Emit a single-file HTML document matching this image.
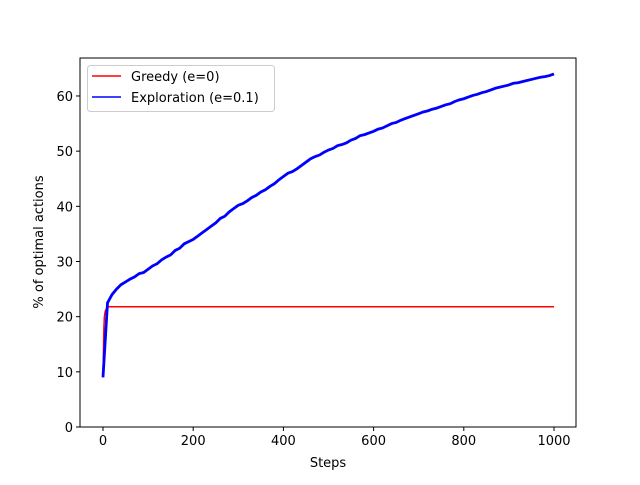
<!DOCTYPE html>
<html><head><meta charset="utf-8"><style>
body{margin:0;background:#fff;}
text{font-family:"DejaVu Sans","Liberation Sans",sans-serif;font-size:13px;fill:#000;}
</style></head><body>
<svg id="chart" width="640" height="480" xmlns="http://www.w3.org/2000/svg">
<rect width="640" height="480" fill="#fff"/>
<g id="plot"></g>
</svg>
<script>
const steps=[0,10,20,30,40,50,60,70,80,90,100,110,120,130,140,150,160,170,180,190,200,210,220,230,240,250,260,270,280,290,300,310,320,330,340,350,360,370,380,390,400,410,420,430,440,450,460,470,480,490,500,510,520,530,540,550,560,570,580,590,600,610,620,630,640,650,660,670,680,690,700,710,720,730,740,750,760,770,780,790,800,810,820,830,840,850,860,870,880,890,900,910,920,930,940,950,960,970,980,990,1000];
const exploration=[9,22.5,24,25,25.8,26.3,26.8,27.2,27.8,28,28.6,29.2,29.6,30.3,30.8,31.2,32,32.4,33.2,33.6,34,34.6,35.2,35.8,36.4,37,37.8,38.2,39,39.6,40.2,40.5,41,41.6,42,42.6,43,43.6,44.1,44.8,45.4,46,46.3,46.8,47.4,48,48.6,49,49.3,49.8,50.2,50.5,51,51.2,51.5,52,52.3,52.8,53,53.3,53.6,54,54.2,54.6,55,55.2,55.6,55.9,56.2,56.5,56.8,57.1,57.3,57.6,57.8,58.1,58.4,58.6,59,59.3,59.5,59.8,60.1,60.3,60.6,60.8,61.1,61.4,61.6,61.8,62,62.3,62.4,62.6,62.8,63,63.2,63.4,63.5,63.7,64];
const greedySteps=[0,1,2,3,5,8,12,20,1000];
const greedy=[9,14,18,20,21,21.5,21.8,21.8,21.8];
const xTicks=[0,200,400,600,800,1000];
const yTicks=[0,10,20,30,40,50,60];

const L=80,R=576,T=58,B=427;
const xs=v=>103+v*(554-103)/1000;
const ys=v=>427-v*5.517;
const g=document.getElementById('plot');
const NS='http://www.w3.org/2000/svg';
function el(t,a){const e=document.createElementNS(NS,t);for(const k in a)e.setAttribute(k,a[k]);g.appendChild(e);return e;}

xTicks.forEach(v=>{
 const t=el('line',{x1:xs(v),x2:xs(v),y1:B,y2:B+4,stroke:'#000'});
 
 
 const tx=el('text',{x:xs(v),y:B+18,'text-anchor':'middle'});tx.textContent=v;
 
 
});
yTicks.forEach(v=>{
 const t=el('line',{x1:L-4,x2:L,y1:ys(v),y2:ys(v),stroke:'#000'});
 
 
 const tx=el('text',{x:L-7,y:ys(v)+5,'text-anchor':'end'});tx.textContent=v;
 
 
});
const p1=el('polyline',{points:greedySteps.map((s,i)=>xs(s)+','+ys(greedy[i])).join(' '),fill:'none',stroke:'#ff0000','stroke-width':1.5});


const p2=el('polyline',{points:steps.map((s,i)=>xs(s)+','+ys(exploration[i])).join(' '),fill:'none',stroke:'#0000ff','stroke-width':2.8});


const fr=el('rect',{x:L,y:T,width:R-L,height:B-T,fill:'none',stroke:'#000','stroke-width':1});


const xl=el('text',{x:(L+R)/2,y:467,'text-anchor':'middle'});xl.textContent='Steps';


const yl=el('text',{x:0,y:0,'text-anchor':'middle',transform:'translate(43,242) rotate(-90)'});yl.textContent='% of optimal actions';


const lg=el('rect',{x:87.5,y:65.5,width:187,height:46,rx:3,fill:'#fff',stroke:'#ccc'});


const l1=el('line',{x1:92,x2:121,y1:76,y2:76,stroke:'#ff0000','stroke-width':1.5});


const t1=el('text',{x:131,y:81});t1.textContent='Greedy (e=0)';


const l2=el('line',{x1:92,x2:121,y1:97,y2:97,stroke:'#0000ff','stroke-width':1.5});


const t2=el('text',{x:131,y:102});t2.textContent='Exploration (e=0.1)';


</script>
</body></html>
